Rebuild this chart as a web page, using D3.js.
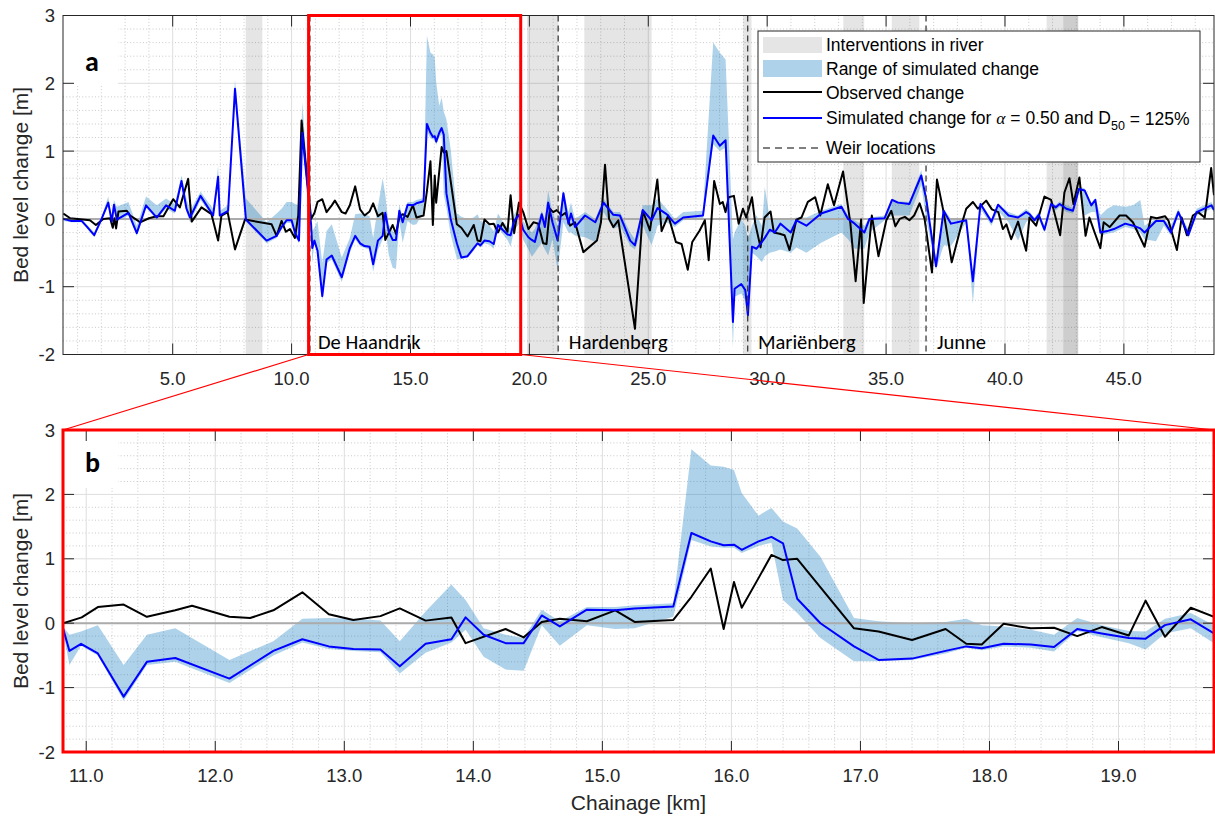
<!DOCTYPE html>
<html>
<head>
<meta charset="utf-8">
<script src="https://cdn.jsdelivr.net/npm/d3@7"></script>
<style>
  body { margin: 0; background: #fff; }
  svg { display: block; }
</style>
</head>
<body>
<svg id="chart" width="1215" height="819"></svg>
<script>
// ---- Observed bed level change along the river (chainage in km, change in m)
const obsKm = [0.40,0.69,1.52,1.77,2.08,2.37,2.48,2.55,2.62,2.72,3.07,3.21,3.42,3.63,4.00,4.33,4.61,5.02,5.30,5.65,5.80,6.21,6.63,6.91,7.05,7.31,7.62,8.04,9.16,9.37,9.58,9.76,9.93,10.14,10.28,10.42,
  10.82,10.965,11.09,11.29,11.47,11.69,11.82,12.11,12.27,12.45,12.675,12.88,13.07,13.28,13.43,13.63,13.83,13.94,14.25,14.39,14.53,14.67,14.88,15.10,15.25,15.55,15.69,15.84,15.94,16.02,16.08,16.21,16.31,16.40,16.51,16.95,17.14,17.40,17.66,17.82,17.94,18.11,18.32,18.50,18.68,18.87,19.08,19.21,19.36,19.56,19.74,
  19.96,20.17,20.37,20.58,20.72,20.86,21.00,21.15,21.36,21.52,21.71,21.92,22.27,22.84,23.01,23.18,23.35,23.53,23.74,24.44,24.77,25.07,25.38,25.56,25.84,26.16,26.40,26.66,26.85,27.16,27.38,27.54,27.77,28.01,28.13,28.25,28.38,28.60,28.80,28.98,29.12,29.36,29.50,29.72,29.89,30.14,30.28,30.52,30.73,30.94,31.23,31.44,31.71,32.02,32.23,32.55,32.81,33.19,33.50,33.72,33.95,34.06,34.40,34.68,35.01,35.22,35.39,35.57,35.79,35.98,36.18,36.41,36.62,36.93,37.14,37.42,37.76,38.16,38.37,38.65,38.86,39.21,39.45,39.72,39.91,40.06,40.26,40.55,40.89,41.03,41.31,41.66,41.94,42.32,42.50,42.71,42.88,43.13,43.39,43.55,43.77,44.01,44.15,44.40,44.82,45.09,45.38,45.87,46.14,46.38,46.73,46.88,47.23,47.43,47.65,47.90,48.12,48.40,48.67,48.79];
const obs = [0.08,0.01,-0.02,-0.09,0.00,0.01,-0.13,0.01,-0.14,0.11,0.12,0.05,0.00,-0.05,0.01,0.04,0.04,0.29,0.17,0.59,-0.04,0.17,0.07,-0.32,0.05,0.10,-0.45,-0.01,-0.08,-0.25,-0.03,-0.19,-0.15,-0.28,0.05,1.45,
  0.00,0.09,0.25,0.29,0.10,0.20,0.27,0.10,0.08,0.20,0.48,0.14,0.05,0.11,0.23,0.04,0.09,-0.31,-0.09,-0.22,0.02,0.07,0.03,0.20,0.02,0.05,0.41,0.85,-0.09,0.64,0.24,0.70,1.06,0.98,1.00,-0.08,-0.13,-0.26,-0.09,-0.32,-0.33,-0.01,-0.08,-0.07,-0.20,-0.06,-0.19,0.35,-0.21,0.24,0.10,
  -0.15,-0.05,-0.07,-0.36,-0.37,0.15,0.10,0.13,0.05,0.09,-0.10,-0.05,-0.49,-0.32,-0.05,0.80,0.00,-0.12,-0.02,-1.62,0.12,-0.17,0.58,-0.18,0.05,-0.34,-0.37,-0.75,-0.34,-0.17,-0.02,-0.61,0.56,0.22,0.25,0.10,0.32,0.34,-0.07,0.15,0.02,0.32,-0.07,-0.42,0.02,0.11,-0.20,-0.22,-0.24,-0.46,-0.01,0.02,0.25,0.32,0.05,0.51,0.20,0.70,-0.07,-0.92,-0.01,-1.24,0.05,-0.55,-0.02,0.12,-0.11,0.00,0.03,-0.02,0.05,0.23,0.00,-0.79,0.58,0.10,-0.64,-0.10,0.15,0.25,0.15,0.27,0.14,0.10,-0.15,-0.08,-0.30,-0.04,-0.47,0.02,-0.10,0.33,0.28,-0.24,0.39,0.60,0.22,0.61,-0.25,0.02,-0.20,-0.43,-0.05,-0.12,0.05,0.05,-0.05,-0.41,0.03,0.01,0.04,-0.03,-0.46,0.02,-0.24,0.05,0.10,0.02,0.75,0.35];

// ---- Simulated change (alpha = 0.50, D50 = 125%) and the range over all simulations
const simKm = [0.40,0.75,1.17,1.38,1.70,2.01,2.29,2.44,2.53,2.65,3.14,3.49,3.88,4.33,4.72,5.09,5.37,5.58,5.73,6.17,6.70,6.91,6.98,7.33,7.62,8.08,8.95,9.37,9.58,9.79,10.00,10.14,10.31,10.45,
  10.82,10.87,10.96,11.09,11.29,11.47,11.69,12.11,12.45,12.675,12.88,13.07,13.28,13.43,13.63,13.83,13.94,14.08,14.25,14.39,14.53,14.67,14.88,15.10,15.25,15.55,15.69,15.84,15.94,16.02,16.08,16.21,16.31,16.40,16.51,16.69,16.95,17.14,17.40,17.66,17.82,17.94,18.11,18.32,18.50,18.68,18.87,19.08,19.21,19.36,19.56,19.74,
  19.96,20.10,20.23,20.52,20.65,20.79,20.97,21.19,21.43,21.64,21.75,21.92,22.34,22.77,23.12,23.53,23.81,24.24,24.44,24.77,25.14,25.39,25.77,26.12,26.47,27.30,27.73,28.01,28.25,28.56,28.63,28.91,29.08,29.19,29.36,29.55,29.78,29.90,30.11,30.32,30.56,30.99,31.23,31.65,32.27,33.12,33.40,33.68,34.09,34.30,34.94,35.25,35.50,35.98,36.48,36.69,37.10,37.42,37.73,38.37,38.65,38.97,39.43,39.71,40.15,40.55,40.89,41.03,41.24,41.42,41.66,41.94,42.13,42.30,42.58,42.86,43.11,43.35,43.63,43.80,44.01,44.30,44.58,45.06,45.39,45.69,45.87,46.35,46.68,46.98,47.29,47.48,47.71,48.06,48.68,48.79];
const sim = [0.00,-0.03,-0.03,-0.11,-0.24,0.00,0.24,-0.04,0.21,-0.01,0.09,-0.21,0.20,0.02,0.20,0.12,0.56,0.15,0.02,0.34,0.05,0.62,0.05,0.12,1.92,-0.01,-0.32,-0.25,-0.12,-0.02,-0.02,-0.20,-0.32,1.27,
  -0.08,-0.43,-0.32,-0.47,-1.14,-0.60,-0.54,-0.86,-0.43,-0.25,-0.36,-0.40,-0.41,-0.67,-0.32,-0.25,0.09,-0.18,-0.31,-0.31,0.12,-0.05,0.21,0.20,0.23,0.26,1.40,1.27,1.21,1.22,1.14,1.27,1.34,1.24,0.38,0.00,-0.36,-0.57,-0.55,-0.43,-0.36,-0.39,-0.32,-0.33,-0.37,-0.09,-0.16,-0.23,-0.24,-0.03,0.06,-0.16,
  -0.27,-0.31,-0.34,0.07,-0.12,0.24,-0.05,-0.32,0.38,-0.07,0.08,-0.12,0.05,-0.05,0.24,0.06,0.05,-0.32,-0.39,0.13,-0.02,0.16,0.07,-0.07,0.02,0.05,1.23,1.08,1.16,-1.52,-1.03,-0.96,-1.05,-1.42,-0.41,-0.44,-0.34,-0.28,-0.16,-0.20,-0.07,-0.20,-0.02,-0.10,0.08,0.18,0.00,-0.07,-0.20,0.00,0.01,0.28,0.24,0.22,0.64,0.29,-0.70,0.12,-0.07,-0.02,-0.92,0.22,-0.04,0.21,0.05,0.02,0.10,0.07,-0.02,0.06,-0.16,0.22,0.17,0.22,0.15,0.12,0.44,0.42,0.20,0.28,-0.20,-0.18,-0.15,-0.07,-0.10,-0.14,-0.20,-0.03,-0.03,-0.20,0.10,-0.05,-0.24,0.10,0.20,0.13];
const simLo = [-0.03,-0.05,-0.05,-0.13,-0.27,-0.03,0.20,-0.07,0.17,-0.04,0.05,-0.25,0.16,0.00,0.15,0.08,0.50,0.10,-0.05,0.28,0.02,0.55,0.02,0.08,1.85,-0.04,-0.36,-0.28,-0.16,-0.06,-0.06,-0.24,-0.36,1.15,
  -0.12,-0.65,-0.35,-0.50,-1.20,-0.65,-0.60,-0.93,-0.50,-0.30,-0.40,-0.43,-0.45,-0.78,-0.46,-0.30,-0.10,-0.52,-0.72,-0.74,-0.03,-0.35,-0.03,-0.09,-0.08,0.10,1.29,1.19,1.17,1.17,1.09,1.20,1.25,0.36,0.16,-0.23,-0.59,-0.59,-0.57,-0.47,-0.38,-0.42,-0.36,-0.38,-0.44,-0.12,-0.22,-0.31,-0.41,-0.16,-0.08,-0.31,
  -0.45,-0.56,-0.50,-0.35,-0.45,-0.54,-0.30,-0.76,-0.05,-0.20,-0.20,-0.25,-0.27,-0.34,0.10,-0.15,-0.10,-0.40,-0.45,-0.10,-0.39,-0.10,-0.05,-0.12,-0.02,0.00,1.10,1.00,1.05,-1.90,-1.15,-1.10,-1.20,-1.55,-0.50,-0.55,-0.64,-0.55,-0.50,-0.48,-0.45,-0.50,-0.42,-0.50,-0.35,-0.20,-0.30,-0.44,-0.44,-0.20,-0.02,0.05,0.05,0.05,0.50,0.00,-0.75,-0.39,-0.40,-0.05,-1.25,0.15,-0.10,0.12,-0.05,-0.32,-0.05,0.00,-0.05,0.00,-0.20,0.18,0.12,0.18,0.10,0.08,0.40,0.05,0.10,0.10,-0.25,-0.22,-0.20,-0.12,-0.15,-0.20,-0.30,-0.33,-0.10,-0.25,0.05,-0.10,-0.28,0.05,0.15,0.10];
const simHi = [0.02,0.00,0.00,-0.08,-0.20,0.03,0.33,0.00,0.28,0.18,0.25,-0.10,0.33,0.20,0.30,0.22,0.64,0.30,0.12,0.40,0.15,0.78,0.12,0.20,2.05,0.30,-0.05,0.08,0.15,0.25,0.25,0.22,0.20,1.72,
  -0.05,-0.18,-0.13,-0.03,-0.65,-0.18,-0.08,-0.57,-0.28,0.07,0.08,0.07,0.04,-0.28,0.18,0.60,0.36,-0.08,-0.18,-0.23,0.21,0.03,0.25,0.25,0.28,0.31,2.70,2.45,2.43,2.38,2.02,1.67,1.79,1.58,1.47,1.03,0.08,0.03,0.00,0.02,0.07,-0.03,-0.05,-0.10,-0.18,0.08,-0.03,-0.12,-0.13,0.07,0.16,-0.03,
  -0.15,-0.20,-0.15,0.12,0.00,0.42,0.10,-0.10,0.42,0.10,0.24,0.00,0.10,0.00,0.30,0.10,0.10,-0.20,-0.30,0.20,0.20,0.30,0.15,0.00,0.10,0.12,2.60,2.45,2.35,-0.30,-0.20,0.00,-0.10,-0.30,-0.10,0.05,-0.10,0.47,0.00,0.00,0.00,0.00,0.02,0.02,0.12,0.22,0.05,-0.02,-0.10,0.02,0.05,0.30,0.26,0.25,0.72,0.30,-0.60,0.15,0.00,0.02,-0.85,0.25,0.00,0.22,0.10,0.05,0.15,0.10,0.02,0.10,-0.10,0.26,0.20,0.26,0.20,0.16,0.48,0.45,0.24,0.30,0.05,0.15,0.20,0.18,0.20,0.28,-0.10,0.00,0.00,-0.10,0.15,0.00,-0.15,0.15,0.25,0.18];

// ---- River works, weirs and towns
const interventionStart = [8.07,19.90,22.31,28.99,33.20,35.24,41.75,42.45];
const interventionEnd   = [8.77,21.22,25.14,29.34,34.08,36.40,43.08,43.08];
const weirKm = [10.77,21.21,29.18,36.68];
const placeNames = ["De Haandrik","Hardenberg","Mariënberg","Junne"];
const placeKm = [11.11,21.66,29.61,37.14];

// ---- Axes
const extentA = [0.387, 48.79];
const zoomWindow = [10.82, 19.74];
const yDomain = [-2, 3];
const yTicks = [-2,-1,0,1,2,3];
const xTicksA = [5,10,15,20,25,30,35,40,45];
const xTicksB = [11,12,13,14,15,16,17,18,19];
const xMinorA = d3.range(1, 49, 1).filter(v => v % 5 !== 0);
const xMinorB = d3.range(110, 198, 2).map(v => v / 10).filter(v => Math.abs(v - Math.round(v)) > 1e-6);
const yMinor = d3.range(-18, 30, 2).map(v => v / 10).filter(v => Math.abs(v - Math.round(v)) > 1e-6);

const obsData = obsKm.map((k, i) => ({ km: k, v: obs[i] }));
const simData = simKm.map((k, i) => ({ km: k, v: sim[i], lo: simLo[i], hi: simHi[i] }));

const svg = d3.select("#chart");
const AXIS = "#262626";
const TICK_FONT = "'Liberation Sans', Arial, Helvetica, sans-serif";
const TEXT_FONT = "Carlito, Calibri, Lato, sans-serif";

const L = 63, R = 1214;
const xA = d3.scaleLinear().domain(extentA).range([L, R]);
const yA = d3.scaleLinear().domain(yDomain).range([354.5, 15.5]);
const xB = d3.scaleLinear().domain(zoomWindow).range([L, R]);
const yB = d3.scaleLinear().domain(yDomain).range([752, 430]);

const defs = svg.append("defs");

function drawPanel(id, x, y, xTicks, xMinor, opts) {
  const [x0, x1] = x.range();
  const [yb, yt] = y.range();
  defs.append("clipPath").attr("id", "clip-" + id)
    .append("rect").attr("x", x0).attr("y", yt).attr("width", x1 - x0).attr("height", yb - yt);

  const g = svg.append("g");
  const plot = g.append("g").attr("clip-path", `url(#clip-${id})`);

  // grid: dotted minor, solid major
  plot.append("g").selectAll("line").data(xMinor).join("line")
    .attr("x1", d => x(d)).attr("x2", d => x(d)).attr("y1", yt).attr("y2", yb)
    .attr("stroke", "#bdbdbd").attr("stroke-width", 0.8).attr("stroke-dasharray", "1,2.2");
  plot.append("g").selectAll("line").data(yMinor).join("line")
    .attr("x1", x0).attr("x2", x1).attr("y1", d => y(d)).attr("y2", d => y(d))
    .attr("stroke", "#bdbdbd").attr("stroke-width", 0.8).attr("stroke-dasharray", "1,2.2");
  plot.append("g").selectAll("line").data(xTicks).join("line")
    .attr("x1", d => x(d)).attr("x2", d => x(d)).attr("y1", yt).attr("y2", yb)
    .attr("stroke", "#dedede").attr("stroke-width", 1);
  plot.append("g").selectAll("line").data(yTicks).join("line")
    .attr("x1", x0).attr("x2", x1).attr("y1", d => y(d)).attr("y2", d => y(d))
    .attr("stroke", "#dedede").attr("stroke-width", 1);

  // white box behind the panel letter
  plot.append("rect").attr("x", x0).attr("y", yt).attr("width", 55).attr("height", opts.letterBoxH)
    .attr("fill", "#fff");

  // interventions (semi-transparent, overlaps darken)
  plot.append("g").selectAll("rect").data(interventionStart).join("rect")
    .attr("x", (d) => x(d)).attr("y", yt)
    .attr("width", (d, i) => x(interventionEnd[i]) - x(d)).attr("height", yb - yt)
    .attr("fill", "#000").attr("fill-opacity", 0.1);

  // range of simulated change
  plot.append("path").datum(simData)
    .attr("d", d3.area().x(d => x(d.km)).y0(d => y(d.lo)).y1(d => y(d.hi)))
    .attr("fill", "#0072bd").attr("fill-opacity", 0.32);

  // zero reference
  plot.append("line").attr("x1", x0).attr("x2", x1).attr("y1", y(0)).attr("y2", y(0))
    .attr("stroke", "#ababab").attr("stroke-width", 2);

  // observed and simulated change
  plot.append("path").datum(obsData)
    .attr("d", d3.line().x(d => x(d.km)).y(d => y(d.v)))
    .attr("fill", "none").attr("stroke", "#000").attr("stroke-width", opts.lw).attr("stroke-linejoin", "round");
  plot.append("path").datum(simData)
    .attr("d", d3.line().x(d => x(d.km)).y(d => y(d.v)))
    .attr("fill", "none").attr("stroke", "#0000ff").attr("stroke-width", opts.lw).attr("stroke-linejoin", "round");

  if (opts.weirs) {
    plot.append("g").selectAll("line").data(weirKm).join("line")
      .attr("x1", d => x(d)).attr("x2", d => x(d)).attr("y1", yt).attr("y2", yb)
      .attr("stroke", "#3a3a3a").attr("stroke-width", 1.3).attr("stroke-dasharray", "6,4");
    plot.append("g").selectAll("text").data(placeNames).join("text")
      .attr("x", (d, i) => x(placeKm[i])).attr("y", yb - 6)
      .attr("font-family", TEXT_FONT).attr("font-size", 20.5).attr("fill", "#000")
      .text(d => d);
  }

  // panel letter
  g.append("text").attr("x", x0 + 22).attr("y", yt + opts.letterY)
    .attr("font-family", TEXT_FONT).attr("font-weight", "bold").attr("font-size", 28)
    .attr("fill", "#000").text(opts.letter);

  // axes box and inward ticks on all four sides
  g.append("rect").attr("x", x0).attr("y", yt).attr("width", x1 - x0).attr("height", yb - yt)
    .attr("fill", "none").attr("stroke", AXIS).attr("stroke-width", 1);
  const tl = 11;
  const ticks = g.append("g").attr("stroke", AXIS).attr("stroke-width", 1);
  xTicks.forEach(t => {
    ticks.append("line").attr("x1", x(t)).attr("x2", x(t)).attr("y1", yb).attr("y2", yb - tl);
    ticks.append("line").attr("x1", x(t)).attr("x2", x(t)).attr("y1", yt).attr("y2", yt + tl);
  });
  yTicks.forEach(t => {
    ticks.append("line").attr("x1", x0).attr("x2", x0 + tl).attr("y1", y(t)).attr("y2", y(t));
    ticks.append("line").attr("x1", x1).attr("x2", x1 - tl).attr("y1", y(t)).attr("y2", y(t));
  });

  // tick labels
  g.append("g").selectAll("text").data(xTicks).join("text")
    .attr("x", d => x(d)).attr("y", yb + 30).attr("text-anchor", "middle")
    .attr("font-family", TICK_FONT).attr("font-size", 18.5).attr("fill", AXIS)
    .text(d => d3.format(".1f")(d));
  g.append("g").selectAll("text").data(yTicks).join("text")
    .attr("x", x0 - 8).attr("y", d => y(d)).attr("dy", "0.36em").attr("text-anchor", "end")
    .attr("font-family", TICK_FONT).attr("font-size", 18.5).attr("fill", AXIS)
    .text(d => String(d));

  // y-axis title
  g.append("text")
    .attr("transform", `translate(28,${(yt + yb) / 2}) rotate(-90)`)
    .attr("text-anchor", "middle")
    .attr("font-family", TICK_FONT).attr("font-size", 21).attr("fill", AXIS)
    .text("Bed level change [m]");
  return g;
}

drawPanel("a", xA, yA, xTicksA, xMinorA, { letter: "a", letterBoxH: 70, letterY: 55, lw: 2, weirs: true });
drawPanel("b", xB, yB, xTicksB, xMinorB, { letter: "b", letterBoxH: 58, letterY: 42, lw: 2, weirs: false });

// x-axis title
svg.append("text").attr("x", (L + R) / 2).attr("y", 810).attr("text-anchor", "middle")
  .attr("font-family", TICK_FONT).attr("font-size", 21).attr("fill", AXIS)
  .text("Chainage [km]");

// zoom window outline in panel a (drawn just outside the window), connectors, frame of panel b
const pad = 2.5;
const zx0 = xA(zoomWindow[0]) - pad, zx1 = xA(zoomWindow[1]) - pad;
const [ybA, ytA] = yA.range();
const [ybB, ytB] = yB.range();
svg.append("line").attr("x1", zx0).attr("y1", ybA).attr("x2", L).attr("y2", ytB)
  .attr("stroke", "#ff0000").attr("stroke-width", 1.2);
svg.append("line").attr("x1", zx1).attr("y1", ybA).attr("x2", R).attr("y2", ytB)
  .attr("stroke", "#ff0000").attr("stroke-width", 1.2);
svg.append("rect").attr("x", zx0).attr("y", ytA).attr("width", zx1 - zx0).attr("height", ybA - ytA)
  .attr("fill", "none").attr("stroke", "#ff0000").attr("stroke-width", 3);
svg.append("rect").attr("x", L).attr("y", ytB).attr("width", R - L).attr("height", ybB - ytB)
  .attr("fill", "none").attr("stroke", "#ff0000").attr("stroke-width", 3);

// legend
const lg = svg.append("g").attr("transform", "translate(758,31)");
lg.append("rect").attr("width", 442).attr("height", 131).attr("fill", "#fff")
  .attr("stroke", AXIS).attr("stroke-width", 1);
const sw0 = 5, sw1 = 64, tx = 68;
lg.append("rect").attr("x", sw0).attr("y", 6).attr("width", sw1 - sw0).attr("height", 16)
  .attr("fill", "#000").attr("fill-opacity", 0.1);
lg.append("rect").attr("x", sw0).attr("y", 29).attr("width", sw1 - sw0).attr("height", 17)
  .attr("fill", "#0072bd").attr("fill-opacity", 0.32);
lg.append("line").attr("x1", sw0).attr("x2", sw1).attr("y1", 61).attr("y2", 61)
  .attr("stroke", "#000").attr("stroke-width", 2);
lg.append("line").attr("x1", sw0).attr("x2", sw1).attr("y1", 87).attr("y2", 87)
  .attr("stroke", "#0000ff").attr("stroke-width", 2);
lg.append("line").attr("x1", sw0).attr("x2", sw1).attr("y1", 117).attr("y2", 117)
  .attr("stroke", "#000").attr("stroke-width", 1.2).attr("stroke-dasharray", "7,5");
const legendText = (yy) => lg.append("text").attr("x", tx).attr("y", yy).attr("dy", "0.36em")
  .attr("font-family", TICK_FONT).attr("font-size", 17.5).attr("fill", "#000");
legendText(14).text("Interventions in river");
legendText(38).text("Range of simulated change");
legendText(62).text("Observed change");
const sl = legendText(87);
sl.append("tspan").text("Simulated change for ");
sl.append("tspan").attr("font-family", "'Liberation Serif', 'DejaVu Serif', serif").attr("font-style", "italic").text("α");
sl.append("tspan").text(" = 0.50 and D");
sl.append("tspan").attr("font-size", 12.5).attr("dy", "0.45em").text("50");
sl.append("tspan").attr("dy", "-0.31em").text(" = 125%");
legendText(117).text("Weir locations");
</script>
</body>
</html>
